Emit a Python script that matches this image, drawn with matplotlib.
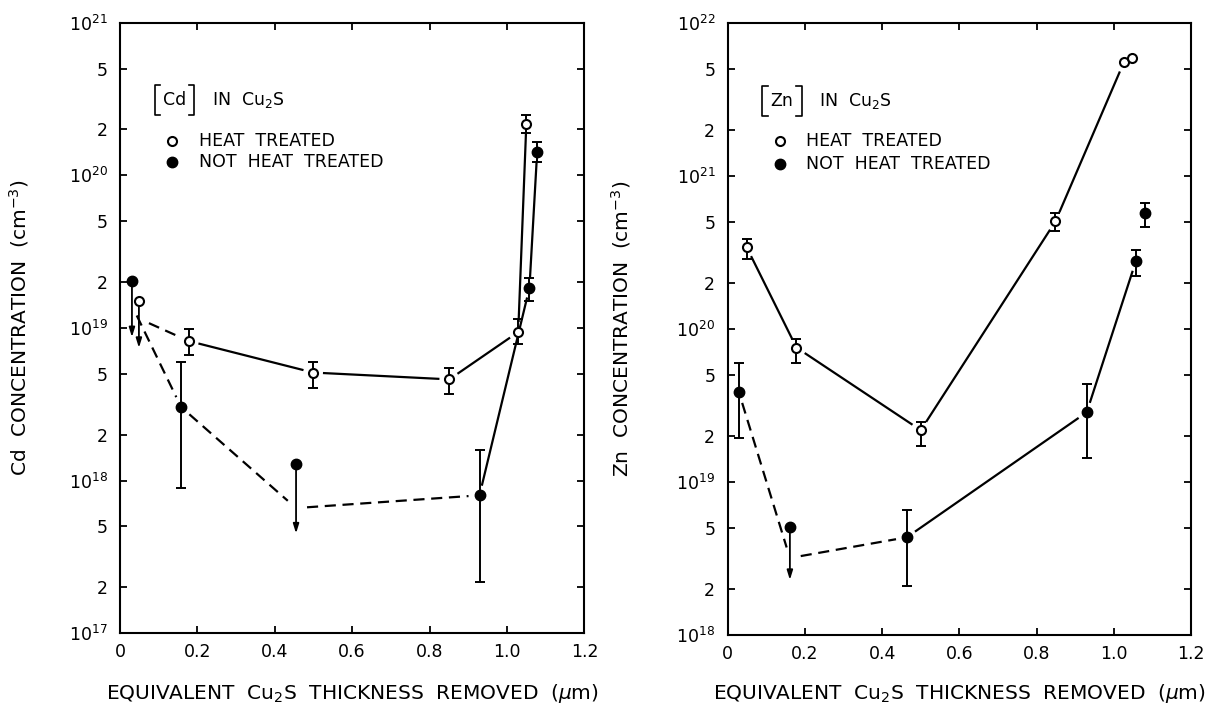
import numpy as np
import matplotlib.pyplot as plt
from matplotlib.lines import Line2D

plt.rcParams['font.family'] = 'DejaVu Sans'
plt.rcParams['mathtext.fontset'] = 'dejavusans'

nan = np.nan

# --- Cd in Cu2S (left) ---
cd_ht_x = [0.049, 0.178, 0.499, 0.851, 1.029, 1.050]
cd_ht_y = [1.5e19, 8.2e18, 5.1e18, 4.6e18, 9.4e18, 2.18e20]
cd_ht_lo = [nan, 6.6e18, 4.05e18, 3.7e18, 7.9e18, 1.9e20]
cd_ht_hi = [nan, 9.9e18, 6.0e18, 5.5e18, 1.15e19, 2.5e20]
cd_ht_limit = [7.4e18, nan, nan, nan, nan, nan]
cd_ht_line = [1.15e19, 8.2e18, 5.1e18, 4.6e18, 9.4e18, 2.18e20]
cd_ht_style = ['--', '-', '-', '-', '-']

cd_nht_x = [0.031, 0.158, 0.455, 0.929, 1.058, 1.078]
cd_nht_y = [2.03e19, 3.03e18, 1.28e18, 8.0e17, 1.83e19, 1.43e20]
cd_nht_lo = [nan, 9.0e17, nan, 2.16e17, 1.5e19, 1.23e20]
cd_nht_hi = [nan, 6.0e18, nan, 1.58e18, 2.13e19, 1.66e20]
cd_nht_limit = [8.7e18, nan, 4.5e17, nan, nan, nan]
cd_nht_line = [1.4e19, 3.03e18, 6.6e17, 8.0e17, 1.83e19, 1.43e20]
cd_nht_style = ['--', '--', '--', '-', '-']

# --- Zn in Cu2S (right) ---
zn_ht_x = [0.049, 0.178, 0.500, 0.849, 1.026, 1.047]
zn_ht_y = [3.44e20, 7.6e19, 2.19e19, 5.08e20, 5.56e21, 5.9e21]
zn_ht_lo = [2.9e20, 6.0e19, 1.74e19, 4.37e20, nan, nan]
zn_ht_hi = [3.9e20, 8.7e19, 2.46e19, 5.8e20, nan, nan]
zn_ht_limit = [nan, nan, nan, nan, nan, nan]
zn_ht_line = [3.44e20, 7.6e19, 2.19e19, 5.08e20, 5.56e21, 5.9e21]
zn_ht_style = ['-', '-', '-', '-', None]

zn_nht_x = [0.029, 0.161, 0.464, 0.930, 1.057, 1.080]
zn_nht_y = [3.87e19, 5.08e18, 4.37e18, 2.87e19, 2.78e20, 5.73e20]
zn_nht_lo = [1.94e19, nan, 2.09e18, 1.44e19, 2.24e20, 4.7e20]
zn_nht_hi = [6.0e19, nan, 6.6e18, 4.36e19, 3.3e20, 6.7e20]
zn_nht_limit = [nan, 2.3e18, nan, nan, nan, nan]
zn_nht_line = [3.87e19, 3.2e18, 4.37e18, 2.87e19, 2.78e20, 5.73e20]
zn_nht_style = ['--', '--', '-', '-', None]

x_ticks = [0, 0.2, 0.4, 0.6, 0.8, 1.0, 1.2]
x_labels = ['0', '0.2', '0.4', '0.6', '0.8', '1.0', '1.2']
xlabel = r'EQUIVALENT  Cu$_2$S  THICKNESS  REMOVED  ($\mu$m)'


def setup(ax, lo, hi, ylabel):
    ax.set_yscale('log')
    ax.set_xlim(0, 1.2)
    ax.set_ylim(10.0 ** lo, 10.0 ** hi)
    ticks, labels = [], []
    for e in range(lo, hi + 1):
        ticks.append(10.0 ** e)
        labels.append(r'$10^{%d}$' % e)
        if e < hi:
            ticks += [2 * 10.0 ** e, 5 * 10.0 ** e]
            labels += ['2', '5']
    ax.set_yticks(ticks, labels)
    ax.minorticks_off()
    ax.set_xticks(x_ticks, x_labels)
    ax.tick_params(direction='in', top=True, right=True, length=5, width=1.3,
                   labelsize=12.5)
    ax.tick_params(axis='y', pad=9)
    ax.tick_params(axis='x', pad=7)
    for s in ax.spines.values():
        s.set_linewidth(1.5)
    ax.set_ylabel(ylabel, fontsize=14.5)
    ax.set_xlabel(xlabel, fontsize=14.5)


def connect(ax, xs, ys, styles, gap=11):
    for i, st in enumerate(styles):
        if st is None:
            continue
        p = ax.transData.transform([(xs[i], ys[i]), (xs[i + 1], ys[i + 1])])
        d = p[1] - p[0]
        u = d / np.hypot(*d)
        q = np.array([p[0] + u * gap, p[1] - u * gap])
        b = ax.transData.inverted().transform(q)
        ax.plot(b[:, 0], b[:, 1], color='k', lw=1.6,
                ls=(0, (5, 3)) if st == '--' else '-', zorder=2)


def series(ax, x, y, lo, hi, limit, line, style, filled):
    x, y, lo, hi, limit = map(np.array, (x, y, lo, hi, limit))
    connect(ax, x, line, style)
    m = ~np.isnan(lo)
    ax.errorbar(x[m], y[m], yerr=[y[m] - lo[m], hi[m] - y[m]], fmt='none',
                ecolor='k', elinewidth=1.4, capsize=3.5, capthick=1.4, zorder=3)
    for xi, yi, li in zip(x, y, limit):
        if not np.isnan(li):
            ax.annotate('', xy=(xi, li), xytext=(xi, yi),
                        arrowprops=dict(arrowstyle='-|>,head_length=0.55,head_width=0.17',
                                        color='k', lw=1.3, shrinkA=0, shrinkB=0),
                        zorder=3)
    if filled:
        ax.plot(x, y, 'o', color='k', ms=7.5, zorder=5)
    else:
        ax.plot(x, y, 'o', mfc='white', mec='k', mew=1.5, ms=6.5, zorder=5)


def key(ax, element):
    # [El] IN Cu2S  with tall brackets
    y0, y1 = 0.848, 0.898
    for xb, w in [(0.075, 0.012), (0.160, -0.012)]:
        ax.add_line(Line2D([xb + w, xb, xb, xb + w], [y1, y1, y0, y0],
                           transform=ax.transAxes, color='k', lw=1.2))
    ax.text(0.1175, 0.873, element, transform=ax.transAxes, fontsize=12.5,
            ha='center', va='center')
    ax.text(0.198, 0.873, r'IN  Cu$_2$S', transform=ax.transAxes,
            fontsize=12.5, va='center')
    ax.plot([0.112], [0.807], 'o', mfc='white', mec='k', mew=1.5, ms=6.5,
            transform=ax.transAxes)
    ax.plot([0.112], [0.771], 'o', color='k', ms=7.5, transform=ax.transAxes)
    ax.text(0.170, 0.807, 'HEAT  TREATED', transform=ax.transAxes,
            fontsize=12.5, va='center')
    ax.text(0.170, 0.771, 'NOT  HEAT  TREATED', transform=ax.transAxes,
            fontsize=12.5, va='center')


fig = plt.figure(figsize=(12.19, 7.09), dpi=100)
ax1 = fig.add_axes([0.0984, 0.107, 0.381, 0.861])
ax2 = fig.add_axes([0.597, 0.104, 0.380, 0.863])

setup(ax1, 17, 21, r'Cd  CONCENTRATION  (cm$^{-3}$)')
setup(ax2, 18, 22, r'Zn  CONCENTRATION  (cm$^{-3}$)')

series(ax1, cd_ht_x, cd_ht_y, cd_ht_lo, cd_ht_hi, cd_ht_limit, cd_ht_line,
       cd_ht_style, False)
series(ax1, cd_nht_x, cd_nht_y, cd_nht_lo, cd_nht_hi, cd_nht_limit,
       cd_nht_line, cd_nht_style, True)
series(ax2, zn_ht_x, zn_ht_y, zn_ht_lo, zn_ht_hi, zn_ht_limit, zn_ht_line,
       zn_ht_style, False)
series(ax2, zn_nht_x, zn_nht_y, zn_nht_lo, zn_nht_hi, zn_nht_limit,
       zn_nht_line, zn_nht_style, True)

key(ax1, 'Cd')
key(ax2, 'Zn')

ax1.yaxis.set_label_coords(-0.192, 0.5)
ax2.yaxis.set_label_coords(-0.205, 0.5)
ax1.xaxis.set_label_coords(0.5, -0.080)
ax2.xaxis.set_label_coords(0.5, -0.076)

fig.savefig('out.png', dpi=100)
